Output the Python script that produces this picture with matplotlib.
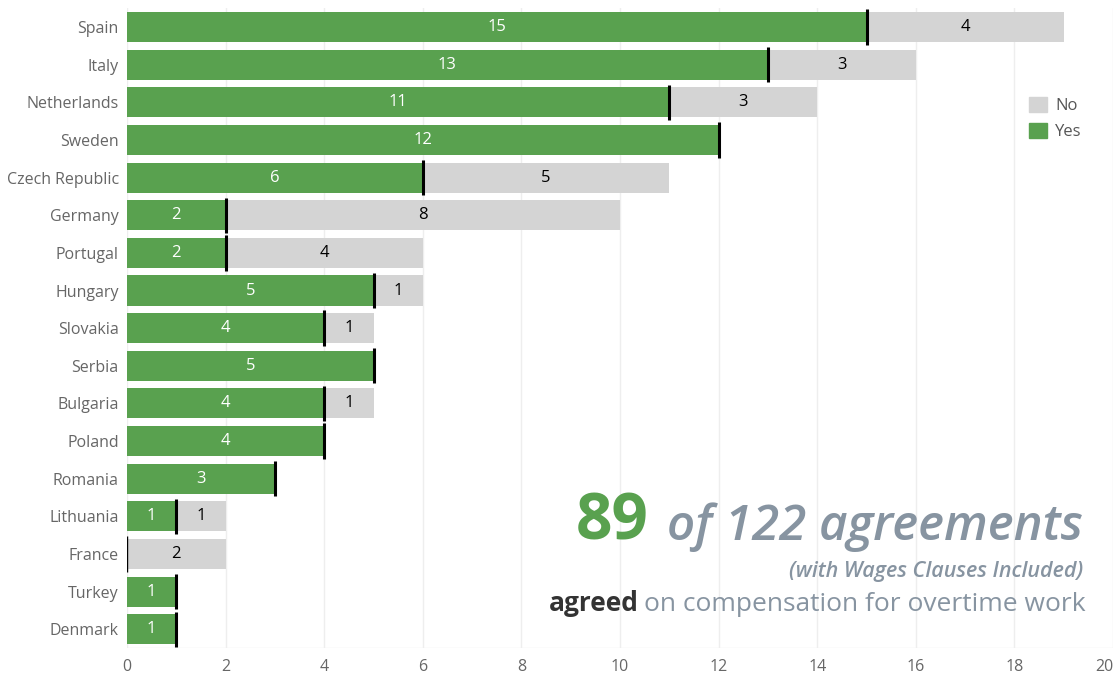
import numpy as np
import matplotlib
matplotlib.use("Agg")
import matplotlib.pyplot as plt
from matplotlib.patches import Patch

plt.rcParams['font.family'] = ['Open Sans', 'DejaVu Sans']

countries = ["Spain", "Italy", "Netherlands", "Sweden", "Czech Republic", "Germany",
             "Portugal", "Hungary", "Slovakia", "Serbia", "Bulgaria", "Poland",
             "Romania", "Lithuania", "France", "Turkey", "Denmark"]
yes_vals = [15, 13, 11, 12, 6, 2, 2, 5, 4, 5, 4, 4, 3, 1, 0, 1, 1]
no_vals = [4, 3, 3, 0, 5, 8, 4, 1, 1, 0, 1, 0, 0, 1, 2, 0, 0]
x_ticks = [0, 2, 4, 6, 8, 10, 12, 14, 16, 18, 20]

green = "#59a14f"
grey = "#d4d4d4"
txt_grey = "#8794a1"

W, H = 1116, 677
fig = plt.figure(figsize=(W / 100, H / 100), dpi=100)
ax = fig.add_axes([127 / W, 0.0428, (1113 - 127) / W, 0.945])

y = np.arange(len(countries))
ax.barh(y, yes_vals, height=0.8, color=green, zorder=2)
ax.barh(y, no_vals, left=yes_vals, height=0.8, color=grey, zorder=2)

for i in range(len(countries)):
    lw = 2.2 if yes_vals[i] > 0 else 1.0
    ax.plot([yes_vals[i], yes_vals[i]], [i - 0.47, i + 0.47], color="black", lw=lw,
            zorder=4, solid_capstyle="butt")
    if yes_vals[i] > 0:
        ax.text(yes_vals[i] / 2, i, str(yes_vals[i]), ha="center", va="center",
                color="white", fontsize=12, fontweight="medium", zorder=5)
    if no_vals[i] > 0:
        ax.text(yes_vals[i] + no_vals[i] / 2, i, str(no_vals[i]), ha="center",
                va="center", color="black", fontsize=12, fontweight="medium", zorder=5)

ax.set_xlim(0, 20)
ax.set_ylim(len(countries) - 0.5, -0.5)
ax.set_yticks(y)
ax.set_yticklabels(countries)
ax.set_xticks(x_ticks)
ax.tick_params(axis="both", length=0, labelsize=11.5, labelcolor="#666666")
ax.tick_params(axis="y", pad=6)
ax.tick_params(axis="x", pad=8)
ax.get_xticklabels()[-1].set_ha("right")
for s in ax.spines.values():
    s.set_visible(False)
ax.axhline(len(countries) - 0.5, color="#eeeeee", lw=1, zorder=1)
ax.grid(axis="x", color="#eeeeee", lw=1, zorder=0)
ax.set_axisbelow(True)

handles = [Patch(color=grey, label="No"), Patch(color=green, label="Yes")]
leg = ax.legend(handles=handles, loc="upper left", bbox_to_anchor=(0.9, 0.885),
                frameon=False, fontsize=12, handlelength=1.05, handleheight=1.05,
                handletextpad=0.5, labelspacing=0.5)
for t in leg.get_texts():
    t.set_color("#555555")

# annotation block
t1 = fig.text(1083 / W, 1 - 540 / H, "of 122 agreements", ha="right", va="baseline",
              fontsize=35.5, fontweight="semibold", style="italic", color=txt_grey)
fig.text(1083 / W, 1 - 577 / H, "(with Wages Clauses Included)", ha="right",
         va="baseline", fontsize=15.5, fontweight="semibold", style="italic",
         color=txt_grey)
t3 = fig.text(1086 / W, 1 - 611 / H, "on compensation for overtime work", ha="right",
              va="baseline", fontsize=19, color=txt_grey)

fig.canvas.draw()
r = fig.canvas.get_renderer()
b1 = t1.get_window_extent(r)
fig.text((b1.x0 - 18) / W, 1 - 540 / H, "89", ha="right", va="baseline",
         fontsize=46, fontweight="bold", color=green)
b3 = t3.get_window_extent(r)
fig.text((b3.x0 - 6) / W, 1 - 611 / H, "agreed", ha="right", va="baseline",
         fontsize=19, fontweight="bold", color="#333333")

fig.savefig("out.png", dpi=100)
